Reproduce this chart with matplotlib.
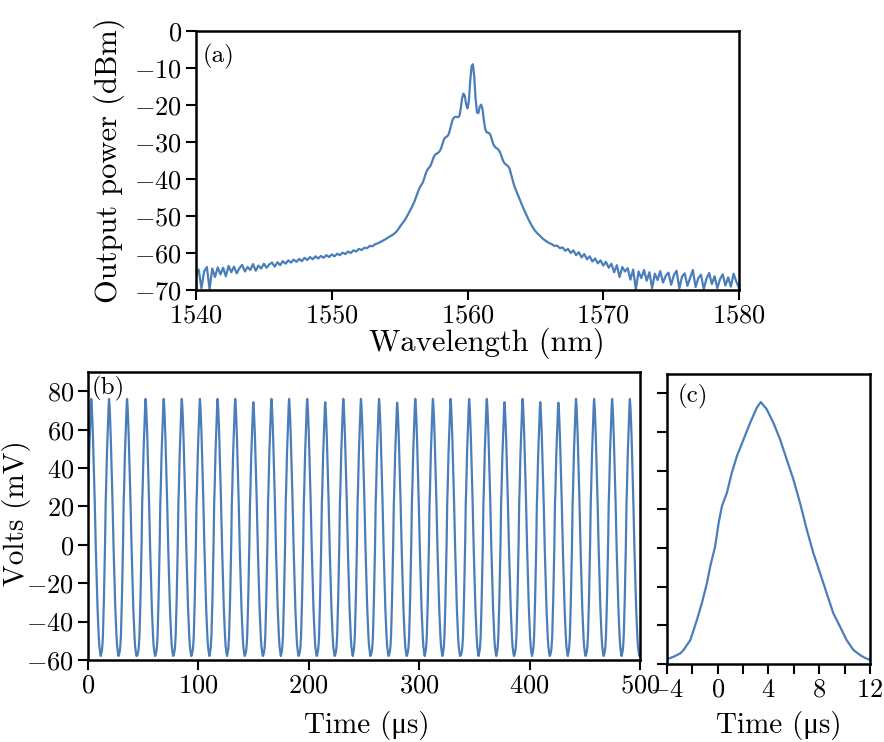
import numpy as np
import matplotlib
matplotlib.use("Agg")
from matplotlib import pyplot as plt

plt.rcParams['font.family'] = ['cmr10', 'Liberation Serif']
plt.rcParams['mathtext.fontset'] = 'cm'
plt.rcParams['axes.formatter.use_mathtext'] = True
plt.rcParams['axes.unicode_minus'] = True

BLUE = '#4a7ebb'

# (a) spectrum in three pieces
left_wl = (1540.0, 1554.8)
left_p = [-66.0, -64.5, -69.5, -65.0, -63.8, -69.8, -64.2, -66.5, -63.9, -65.8,
          -64.0, -66.3, -63.5, -65.2, -63.7, -65.5, -64.1, -63.2, -65.0, -63.8,
          -64.6, -63.0, -64.8, -63.4, -64.2, -62.9, -64.0, -63.1, -62.6, -63.7,
          -62.5, -63.3, -62.2, -62.9, -62.0, -62.6, -61.8, -62.4, -61.6, -62.2,
          -61.3, -61.9, -61.1, -61.7, -60.9, -61.5, -60.8, -61.3, -60.6, -61.1,
          -60.4, -60.9, -60.2, -60.6, -59.9, -60.3, -59.6, -60.0, -59.3, -59.6,
          -58.9, -59.2, -58.6, -58.7, -58.1, -58.2, -57.6, -57.4, -57.0, -56.6,
          -56.2, -55.7, -55.3, -54.8, -54.1]
mid_wl = (1555.0, 1565.0)
mid_p = [-53.0, -52.5, -52.0, -51.5, -51.0, -50.4, -49.7, -49.0, -48.3, -47.6,
         -46.8, -46.0, -45.0, -44.0, -43.0, -42.2, -41.6, -41.0, -40.0, -38.8,
         -37.8, -37.2, -36.8, -36.2, -35.2, -34.2, -33.5, -33.2, -33.0, -32.7,
         -32.2, -31.2, -30.0, -29.0, -28.7, -28.5, -28.0, -26.8, -25.4, -24.0,
         -23.4, -23.2, -23.2, -23.3, -23.0, -21.0, -18.2, -16.9, -17.5, -19.8,
         -20.9, -19.0, -13.5, -9.5, -9.0, -12.5, -18.5, -22.0, -22.2, -20.5,
         -19.9, -21.0, -24.0, -26.4, -27.3, -27.5, -27.6, -28.2, -29.4, -30.6,
         -31.2, -31.6, -31.8, -32.2, -32.8, -33.8, -34.9, -35.6, -36.0, -36.3,
         -36.6, -37.2, -38.6, -40.0, -41.3, -42.4, -43.3, -44.2, -45.1, -46.0,
         -46.9, -47.8, -48.6, -49.4, -50.2, -51.0, -51.7, -52.4, -53.0, -53.6,
         -54.1]
right_wl = (1565.2, 1580.0)
right_p = [-54.9, -55.6, -56.3, -56.8, -57.3, -57.6, -58.1, -58.0, -58.7, -58.5,
           -59.4, -58.9, -60.0, -59.3, -60.6, -59.8, -61.2, -60.3, -61.7, -60.9,
           -62.3, -61.5, -62.8, -62.0, -63.4, -62.4, -64.0, -62.9, -65.2, -63.3,
           -66.5, -63.8, -65.0, -64.1, -67.2, -64.5, -69.8, -65.0, -66.8, -64.6,
           -67.5, -65.2, -69.5, -65.6, -67.3, -64.9, -68.0, -66.2, -65.3, -68.6,
           -66.0, -64.8, -69.6, -66.4, -65.5, -68.9, -66.7, -64.6, -69.2, -66.8,
           -65.9, -69.7, -67.0, -65.4, -68.4, -66.3, -69.5, -67.1, -65.8, -68.8,
           -66.6, -69.1, -65.6, -67.7, -69.5]

# (c) single pulse
pulse_t = [-3.95, -3.47, -2.95, -2.69, -2.16, -1.64, -1.25, -0.85, -0.59, -0.20,
           0.07, 0.33, 0.72, 1.11, 1.51, 2.03, 2.56, 3.08, 3.40, 3.87, 4.39,
           4.92, 5.44, 5.97, 6.49, 7.02, 7.54, 8.07, 8.59, 9.11, 9.64, 10.16,
           10.69, 11.21, 11.60, 12.0]
pulse_v = [-57.4, -56.2, -54.5, -52.7, -47.6, -37.2, -28.5, -18.2, -9.5, 0.9,
           12.9, 21.6, 28.5, 38.9, 47.5, 56.1, 64.8, 72.6, 75.5, 71.7, 64.8,
           56.1, 45.8, 35.4, 23.3, 9.5, -2.6, -13.0, -23.4, -33.7, -40.6, -47.6,
           -52.7, -55.3, -56.8, -57.9]
pulse_peak_t = 3.40

# (b) pulse train: peak times and peak heights
peak_times = [3.0, 19.1, 35.4, 52.2, 68.6, 85.0, 101.4, 117.4, 133.4, 149.8,
              166.2, 182.2, 198.6, 214.9, 231.3, 247.3, 263.7, 280.1, 296.5,
              312.5, 328.5, 345.3, 361.3, 377.3, 393.7, 409.7, 426.1, 442.1,
              458.5, 474.8, 490.9, 507.2]
peak_heights = [76, 76, 76, 76, 76, 76, 76, 76, 76, 74.3,
                76, 76, 76, 74.3, 76, 76, 76, 74.0, 76,
                76, 76, 76, 76, 74.3, 76, 74.3, 74.0, 76,
                76, 76, 76, 76]
trough = -58.5

fig = plt.figure(figsize=(8.84, 7.42), dpi=100)


def style(ax):
    for s in ax.spines.values():
        s.set_linewidth(1.8)
    ax.tick_params(direction='out', length=7, width=1.5, labelsize=19, pad=3)


# (a)
ax1 = fig.add_axes([0.2217, 0.6092, 0.6143, 0.349])
wl = np.concatenate([np.linspace(*left_wl, len(left_p)),
                     np.linspace(*mid_wl, len(mid_p)),
                     np.linspace(*right_wl, len(right_p))])
pw = np.concatenate([left_p, mid_p, right_p])
ax1.plot(wl, pw, color=BLUE, lw=1.6)
ax1.set_xlim(1540, 1580)
ax1.set_ylim(-70, 0)
ax1.set_xticks([1540, 1550, 1560, 1570, 1580])
ax1.set_yticks(range(-70, 1, 10))
style(ax1)
ax1.set_xlabel('Wavelength (nm)', fontsize=22)
ax1.xaxis.set_label_coords(0.536, -0.145)
ax1.set_ylabel('Output power (dBm)', fontsize=22)
ax1.yaxis.set_label_coords(-0.131, 0.5)
ax1.text(0.012, 0.95, '(a)', transform=ax1.transAxes, fontsize=18, va='top')

# (b)
ax2 = fig.add_axes([0.0995, 0.1105, 0.6244, 0.3881])
tb, vb = [], []
pv = np.array(pulse_v)
for p, h in zip(peak_times, peak_heights):
    tb.append(p + np.array(pulse_t) - pulse_peak_t)
    vb.append((pv - trough) * (h - trough) / (max(pulse_v) - trough) + trough)
ax2.plot(np.concatenate(tb), np.concatenate(vb), color=BLUE, lw=1.6)
ax2.set_xlim(0, 500)
ax2.set_ylim(-60, 90)
ax2.set_xticks(range(0, 501, 100))
ax2.set_yticks(range(-60, 81, 20))
style(ax2)
ax2.set_xlabel('Time (μs)', fontsize=21)
ax2.xaxis.set_label_coords(0.505, -0.176)
ax2.set_ylabel('Volts (mV)', fontsize=21)
ax2.yaxis.set_label_coords(-0.104, 0.51)
ax2.text(0.006, 0.985, '(b)', transform=ax2.transAxes, fontsize=18, va='top')

# (c)
ax3 = fig.add_axes([0.7545, 0.1051, 0.2296, 0.3908])
ax3.plot(pulse_t, pulse_v, color=BLUE, lw=1.6)
ax3.set_xlim(-4, 12)
ax3.set_ylim(-60, 90)
ax3.set_xticks([-4, 0, 4, 8, 12])
ax3.set_xticks([-2, 2, 6, 10], minor=True)
ax3.set_yticks(range(-60, 81, 20))
ax3.set_yticklabels([])
style(ax3)
ax3.tick_params(which='minor', direction='out', length=7, width=1.5)
ax3.set_xlabel('Time (μs)', fontsize=21)
ax3.xaxis.set_label_coords(0.552, -0.162)
ax3.text(0.05, 0.965, '(c)', transform=ax3.transAxes, fontsize=18, va='top')

fig.savefig('out.png', dpi=100)
